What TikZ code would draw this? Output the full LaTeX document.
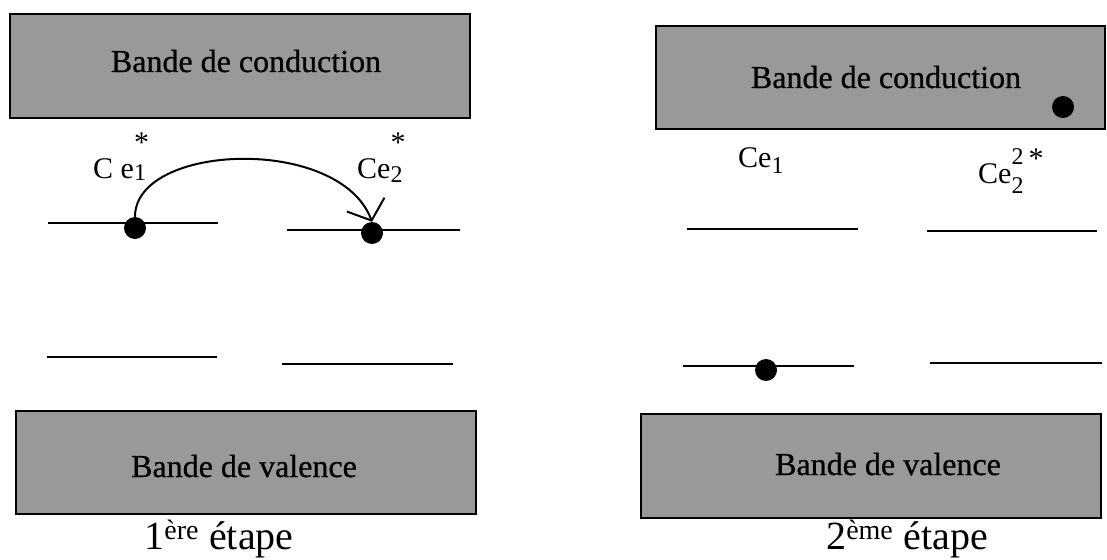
\documentclass[tikz,border=0pt]{standalone}
\usepackage{fontspec}
\setmainfont{Liberation Serif}
\newfontfamily\bandfamily[FakeBold=0.8]{Liberation Serif}
\usetikzlibrary{arrows.meta}
\definecolor{bandgray}{gray}{0.6}
\newcommand{\bandfont}{\bandfamily\fontsize{32}{38}\selectfont}
\newcommand{\lblfont}{\fontsize{30}{36}\selectfont}
\newcommand{\stepfont}{\fontsize{40}{46}\selectfont}
\newcommand{\smallidx}{\fontsize{24}{26}\selectfont}
\newcommand{\hiidx}[2]{\raisebox{#1}{\smallidx #2}}
\newcommand{\loidx}[2]{\raisebox{-#1}{\smallidx #2}}
\newcommand{\histar}[1]{\raisebox{#1}{*}}
\begin{document}
\begin{tikzpicture}[x=1pt,y=-1pt,
  band/.style={draw=black, line width=2pt, fill=bandgray, inner sep=0pt, anchor=north west},
  bandtext/.style={anchor=base, font=\bandfont, inner sep=0pt},
  lbl/.style={anchor=base west, font=\lblfont, inner sep=0pt},
  steptext/.style={anchor=base, font=\stepfont, inner sep=0pt},
  level/.style={line width=2pt},
  electron/.style={circle, fill=black, minimum size=22pt, inner sep=0pt},
  jump/.style={line width=2pt, -{Straight Barb[length=17pt,width=40pt,line width=2pt]}}]
\useasboundingbox (0,0) rectangle (1107,559);
% boxes
\node[band, minimum width=460pt, minimum height=104pt] (cb1) at (9,13) {};
\node[band, minimum width=460pt, minimum height=103pt] (vb1) at (15,410) {};
\node[band, minimum width=449pt, minimum height=103pt] (cb2) at (655,25) {};
\node[band, minimum width=460pt, minimum height=104pt] (vb2) at (640,413) {};
\node[bandtext] (t1) at (246,72) {Bande de conduction};
\node[bandtext] (t2) at (244,477) {Bande de valence};
\node[bandtext] (t3) at (886,88) {Bande de conduction};
\node[bandtext] (t4) at (888,475) {Bande de valence};
% levels left
\draw[level] (48,223) -- (218,223);
\draw[level] (287,230) -- (460,230);
\draw[level] (47,357) -- (217,357);
\draw[level] (282,364) -- (453,364);
% levels right
\draw[level] (687,229) -- (858,229);
\draw[level] (927,231) -- (1097,231);
\draw[level] (683,366) -- (854,366);
\draw[level] (930,363) -- (1102,363);
% electrons
\node[electron] (d1) at (135,228) {};
\node[electron] (d2) at (372,233) {};
\node[electron] (d3) at (1063,107) {};
\node[electron] (d4) at (766,370) {};
% jump
\draw[jump] (d1.north) .. controls (135,143) and (340,135) .. (d2.north);
% labels
\node[lbl] (c1) at (93,178) {C e\rlap{\histar{26pt}}\loidx{2pt}{1}};
\node[lbl] (c2) at (357,178) {Ce\rlap{\histar{26pt}}\loidx{4pt}{2}};
\node[lbl] (c3) at (738,167) {Ce\loidx{6pt}{1}};
\node[lbl] (c4) at (978,183) {Ce\rlap{\hiidx{19pt}{2}}\loidx{10pt}{2}\,\histar{15pt}};
% steps
\node[steptext] (s1) at (219,549) {1\textsuperscript{ère} étape};
\node[steptext] (s2) at (907,549) {2\textsuperscript{ème} étape};
\end{tikzpicture}
\end{document}
